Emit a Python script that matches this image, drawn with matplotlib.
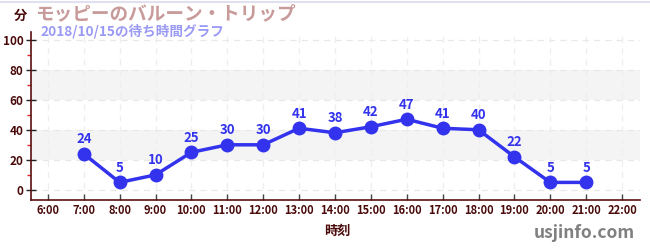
import matplotlib
matplotlib.use("Agg")
import matplotlib.pyplot as plt
from matplotlib.ticker import MultipleLocator

plt.rcParams['font.family'] = ['Noto Sans CJK JP', 'DejaVu Sans']

hours = [7, 8, 9, 10, 11, 12, 13, 14, 15, 16, 17, 18, 19, 20, 21]
waits = [24, 5, 10, 25, 30, 30, 41, 38, 42, 47, 41, 40, 22, 5, 5]
xticks = list(range(6, 23))
xticklabels = [f"{h}:00" for h in xticks]
yticks = [0, 20, 40, 60, 80, 100]

W, H = 650, 250
fig = plt.figure(figsize=(W/100, H/100), dpi=100)
ax = fig.add_axes([31/W, 1-200/H, (640-31)/W, (200-32)/H])

x0, x1 = 5.53, 22.5
ax.set_xlim(x0, x1)
ax.set_ylim(-6.7, 105)

for lo, hi in [(20, 40), (60, 80)]:
    ax.axhspan(lo, hi, color='#f4f4f4', zorder=0, lw=0)

for y in yticks:
    ax.axhline(y, color='#e8e8e8', lw=0.9, ls=(0, (5, 4)), zorder=1)
for x in xticks:
    ax.axvline(x, color='#eeeeee', lw=0.9, ls=(0, (5, 4)), zorder=1)

color = '#3333ee'
ax.plot(hours, waits, color=color, lw=2.5, marker='o', ms=9, zorder=3, clip_on=False)
for h, v in zip(hours, waits):
    ax.text(h, v + 5, str(v), ha='center', va='bottom', color=color,
            fontsize=9.5, fontweight='bold', zorder=4)

dark = '#4a0a0a'
for s in ['top', 'right']:
    ax.spines[s].set_visible(False)
ax.spines['left'].set_color('#5a1010')
ax.spines['bottom'].set_color('#5a1010')
ax.spines['left'].set_linewidth(1.2)
ax.spines['bottom'].set_linewidth(1.2)

ax.set_yticks(yticks)
ax.set_yticklabels([str(y) for y in yticks])
ax.yaxis.set_minor_locator(MultipleLocator(10))
ax.tick_params(axis='y', which='major', direction='inout', length=7, width=1, color='#222222',
               labelsize=8.5, labelcolor=dark, pad=2)
ax.tick_params(axis='y', which='minor', direction='out', length=3, width=1, color='#dd2222')
ax.set_xticks(xticks)
ax.set_xticklabels(xticklabels)
ax.tick_params(axis='x', which='major', direction='in', length=4, width=1, color='#444444',
               labelsize=8, labelcolor=dark, pad=3)
for lbl in ax.get_xticklabels() + ax.get_yticklabels():
    lbl.set_fontweight('bold')

fig.text(20/W, 1-16/H, '分', ha='center', va='center', fontsize=9.5, fontweight='bold', color=dark)
fig.text(35/W, 1-14/H, 'モッピーのバルーン・トリップ', ha='left', va='center', fontsize=13.4,
         fontweight='bold', color='#c89a9a')
fig.text(40/W, 1-31/H, '2018/10/15の待ち時間グラフ', ha='left', va='center', fontsize=9.8,
         fontweight='bold', color='#9a9af5')
fig.text(337/W, 1-231/H, '時刻', ha='center', va='center', fontsize=9.5, fontweight='bold', color=dark)
fig.text(635/W, 1-233/H, 'usjinfo.com', ha='right', va='center', fontsize=12.5,
         fontweight='bold', color='#808080')

fig.add_artist(plt.Line2D([0, 1], [1-1.5/H, 1-1.5/H], color='#e0e0f0', lw=1.5, transform=fig.transFigure))

fig.savefig('out.png', dpi=100)
